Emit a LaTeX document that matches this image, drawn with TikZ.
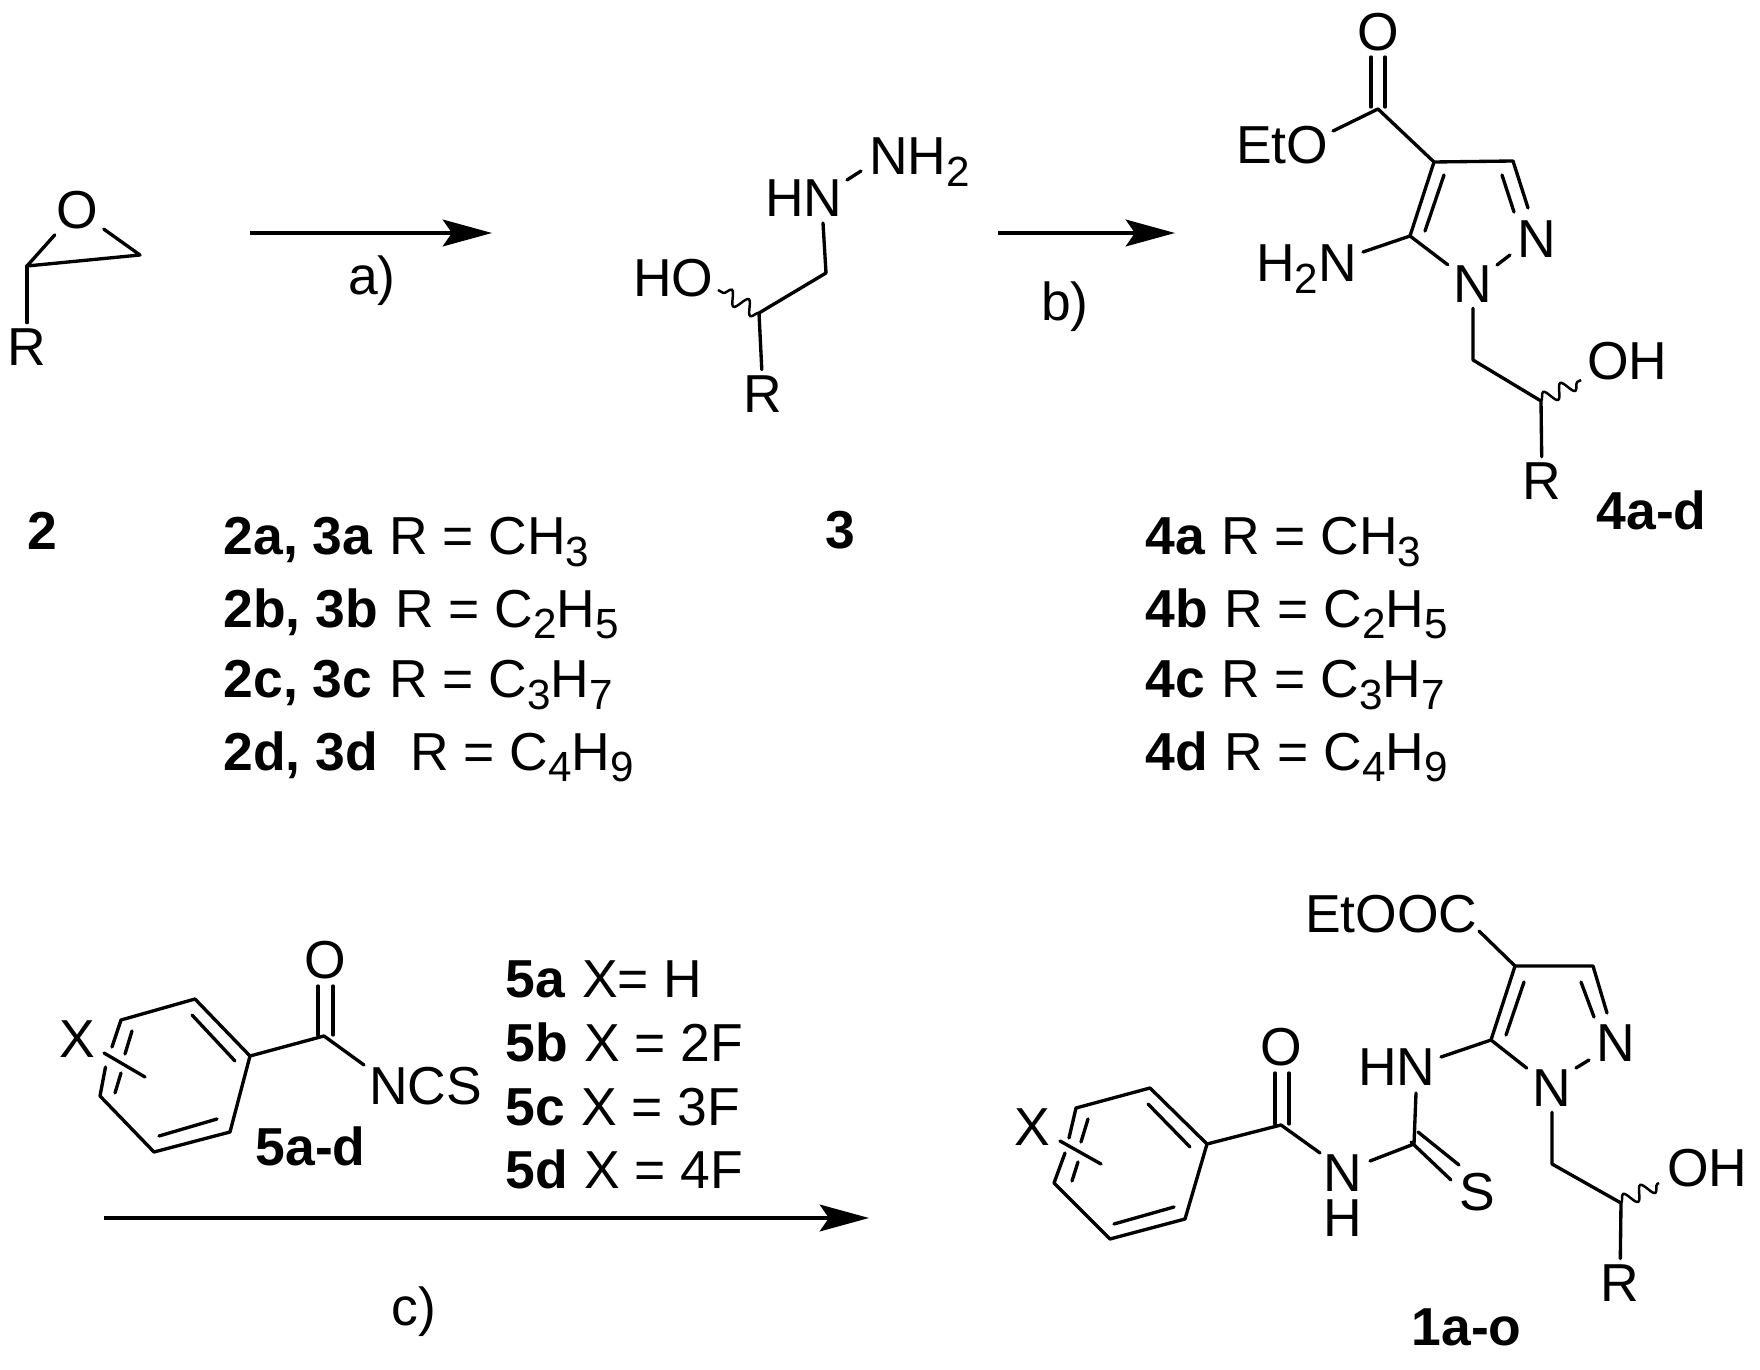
\documentclass[tikz,border=0pt]{standalone}
\usepackage{fontspec}
\setmainfont{Liberation Sans}
\usetikzlibrary{arrows.meta}
\usetikzlibrary{decorations.pathmorphing}
\newcommand{\indice}[1]{\raisebox{-3.4pt}{\fontsize{12}{12}\selectfont #1}}
\tikzset{
	atome/.style={inner sep=1.5pt,font=\fontsize{15.2}{17}\selectfont},
	texte/.style={inner sep=0pt,anchor=base west,xshift=-1pt,font=\fontsize{15.2}{17}\selectfont},
	gras/.style={inner sep=0pt,anchor=base west,xshift=-.6pt,font=\fontsize{15.2}{17}\selectfont\bfseries},
	liaison/.style={line width=.95pt,line cap=round,line join=round},
	ondule/.style={line width=.7pt,decorate,decoration={snake,amplitude=2pt,segment length=5.5pt}},
	fleche/.style={line width=1.05pt,-{Stealth[length=14pt,width=7.6pt,inset=2.6pt]}}
}
\begin{document}
\begin{tikzpicture}[x=.01cm,y=-.01cm]
					\useasboundingbox (0,0) rectangle (1760,1370);
%					Epoxyde 2 :
					\node[atome] (epO) at (77,210) {O};
					\node[atome] (epR) at (27,347) {R};
					\coordinate (epA) at (27,266);
					\coordinate (epB) at (140,255);
					\draw[liaison] (epO) -- (epA) -- (epB) -- (epO);
					\draw[liaison] (epA) -- (epR);
%					Fleche a) :
					\coordinate (flaD) at (250,233);
					\coordinate (flaF) at (492,233);
					\draw[fleche] (flaD) -- (flaF);
					\node[atome] (eta) at (372,281) {a)};
%					Hydrazine 3 :
					\node[texte] (hyNH) at (768,217) {HN};
					\node[texte] (hyNHd) at (872,175) {NH\indice{2}};
					\node[texte] (hyOH) at (636,297) {HO};
					\node[atome] (hyR) at (763,394) {R};
					\coordinate (hyA) at (823,223);
					\coordinate (hyB) at (826,273);
					\coordinate (hyC) at (759,313);
					\coordinate (hyD) at (847,180);
					\coordinate (hyE) at (861,171);
					\coordinate (hyF) at (718,290);
					\draw[liaison] (hyA) -- (hyB) -- (hyC) -- (hyR);
					\draw[liaison] (hyD) -- (hyE);
					\draw[ondule] (hyC) -- (hyF);
%					Fleche b) :
					\coordinate (flbD) at (998,233);
					\coordinate (flbF) at (1175,233);
					\draw[fleche] (flbD) -- (flbF);
					\node[atome] (etb) at (1065,307) {b)};
%					Pyrazole 4 :
					\node[atome] (pyO) at (1378,32) {O};
					\node[texte] (pyEt) at (1239,164) {EtO};
					\node[texte] (pyAm) at (1259,282) {H\indice{2}N};
					\node[atome] (pyNa) at (1473,284) {N};
					\node[atome] (pyNb) at (1537,239) {N};
					\node[texte] (pyOH) at (1590,380) {OH};
					\node[atome] (pyR) at (1542,481) {R};
					\coordinate (pyC) at (1378,109);
					\coordinate (pyCa) at (1371,57);
					\coordinate (pyCb) at (1371,107);
					\coordinate (pyCc) at (1385,57);
					\coordinate (pyCd) at (1385,107);
					\coordinate (pyE) at (1333,131);
					\coordinate (pyQ) at (1434,162);
					\coordinate (pyT) at (1513,161);
					\coordinate (pyTn) at (1528,208);
					\coordinate (pyIa) at (1502,175);
					\coordinate (pyIb) at (1514,212);
					\coordinate (pyV) at (1410,236);
					\coordinate (pyIc) at (1444,175);
					\coordinate (pyId) at (1425,231);
					\coordinate (pyAe) at (1363,252);
					\coordinate (pyNe) at (1497,265);
					\coordinate (pyNf) at (1510,255);
					\coordinate (pyS) at (1473,360);
					\coordinate (pyM) at (1541,401);
					\coordinate (pyW) at (1581,380);
					\draw[liaison] (pyCa) -- (pyCb);
					\draw[liaison] (pyCc) -- (pyCd);
					\draw[liaison] (pyE) -- (pyC) -- (pyQ) -- (pyT) -- (pyTn);
					\draw[liaison] (pyIa) -- (pyIb);
					\draw[liaison] (pyQ) -- (pyV) -- (pyAe);
					\draw[liaison] (pyIc) -- (pyId);
					\draw[liaison] (pyV) -- (pyNa);
					\draw[liaison] (pyNe) -- (pyNf);
					\draw[liaison] (pyNa) -- (pyS) -- (pyM) -- (pyR);
					\draw[ondule] (pyM) -- (pyW);
%					Textes de la premiere ligne :
					\node[gras] (nbDeux) at (29,550) {2};
					\node[gras] (nbTrois) at (827,549) {3};
					\node[gras] (nbQuatre) at (1598,530) {4a-d};
					\node[gras] (lgA) at (225,555) {2a, 3a};
					\node[texte] (rgA) at (392,555) {R = CH\indice{3}};
					\node[gras] (lgB) at (225,627) {2b, 3b};
					\node[texte] (rgB) at (398,627) {R = C\indice{2}H\indice{5}};
					\node[gras] (lgC) at (225,698) {2c, 3c};
					\node[texte] (rgC) at (392,698) {R = C\indice{3}H\indice{7}};
					\node[gras] (lgD) at (225,770) {2d, 3d};
					\node[texte] (rgD) at (413,770) {R = C\indice{4}H\indice{9}};
					\node[gras] (lqA) at (1147,555) {4a};
					\node[texte] (rqA) at (1224,555) {R = CH\indice{3}};
					\node[gras] (lqB) at (1147,627) {4b};
					\node[texte] (rqB) at (1227,627) {R = C\indice{2}H\indice{5}};
					\node[gras] (lqC) at (1147,698) {4c};
					\node[texte] (rqC) at (1224,698) {R = C\indice{3}H\indice{7}};
					\node[gras] (lqD) at (1147,770) {4d};
					\node[texte] (rqD) at (1227,770) {R = C\indice{4}H\indice{9}};
%					Isothiocyanate 5 :
					\node[atome] (isO) at (325,960) {O};
					\node[atome] (isX) at (77,1039) {X};
					\node[texte] (isN) at (372,1104) {NCS};
					\node[gras] (nbCinq) at (257,1165) {5a-d};
					\coordinate (isA) at (250,1056);
					\coordinate (isB) at (195,999);
					\coordinate (isC) at (121,1020);
					\coordinate (isCa) at (112,1047);
					\coordinate (isDa) at (105.5,1067);
					\coordinate (isD) at (100,1096);
					\coordinate (isE) at (154,1152);
					\coordinate (isF) at (230,1132);
					\coordinate (isG) at (324,1036);
					\coordinate (isGa) at (318,986);
					\coordinate (isGb) at (318,1035);
					\coordinate (isGc) at (333,986);
					\coordinate (isGd) at (333,1035);
					\coordinate (isH) at (364,1065);
					\coordinate (isIa) at (192,1015);
					\coordinate (isIb) at (235,1061);
					\coordinate (isIc) at (132,1031);
					\coordinate (isId) at (125,1054);
					\coordinate (isIe) at (121,1073);
					\coordinate (isIf) at (115,1093);
					\coordinate (isIg) at (159,1136);
					\coordinate (isIh) at (217,1119);
					\coordinate (isXa) at (104,1053);
					\coordinate (isXb) at (145,1077);
					\draw[liaison] (isCa) -- (isC) -- (isB) -- (isA) -- (isF) -- (isE) -- (isD) -- (isDa);
					\draw[liaison] (isIa) -- (isIb);
					\draw[liaison] (isIc) -- (isId);
					\draw[liaison] (isIe) -- (isIf);
					\draw[liaison] (isIg) -- (isIh);
					\draw[liaison] (isXa) -- (isXb);
					\draw[liaison] (isA) -- (isG) -- (isH);
					\draw[liaison] (isGa) -- (isGb);
					\draw[liaison] (isGc) -- (isGd);
					\node[gras] (lcA) at (507,997) {5a};
					\node[texte] (rcA) at (585,997) {X= H};
					\node[gras] (lcB) at (507,1061) {5b};
					\node[texte] (rcB) at (587,1061) {X = 2F};
					\node[gras] (lcC) at (507,1125) {5c};
					\node[texte] (rcC) at (584,1125) {X = 3F};
					\node[gras] (lcD) at (507,1188) {5d};
					\node[texte] (rcD) at (587,1188) {X = 4F};
%					Fleche c) :
					\coordinate (flcD) at (104,1218);
					\coordinate (flcF) at (869,1218);
					\draw[fleche] (flcD) -- (flcF);
					\node[atome] (etc) at (414,1312) {c)};
%					Produit 1 :
					\node[texte] (prEt) at (1308,932) {EtOOC};
					\node[atome] (prNa) at (1552,1088) {N};
					\node[atome] (prNb) at (1616,1043) {N};
					\node[texte] (prHN) at (1361,1085) {HN};
					\node[atome] (prS) at (1477,1192) {S};
					\node[atome,inner sep=0pt,align=center,font=\fontsize{15.2}{12.8}\selectfont] (prNH) at (1343,1196) {N\\H};
					\node[atome] (prO) at (1281,1047) {O};
					\node[atome] (prX) at (1032,1127) {X};
					\node[texte] (prOH) at (1670,1186) {OH};
					\node[atome] (prR) at (1620,1283) {R};
					\node[gras] (nbUn) at (1413,1345) {1a-o};
					\coordinate (prEa) at (1479,931);
					\coordinate (prQ) at (1515,966);
					\coordinate (prT) at (1593,966);
					\coordinate (prTn) at (1607,1013);
					\coordinate (prIa) at (1581,982);
					\coordinate (prIb) at (1594,1017);
					\coordinate (prV) at (1491,1040);
					\coordinate (prIc) at (1524,982);
					\coordinate (prId) at (1506,1035);
					\coordinate (prNe) at (1576,1068);
					\coordinate (prNf) at (1589,1060);
					\coordinate (prHa) at (1441,1057);
					\coordinate (prHb) at (1416,1093);
					\coordinate (prU) at (1414,1144);
					\coordinate (prSa) at (1418,1132);
					\coordinate (prSb) at (1459,1165);
					\coordinate (prSc) at (1411,1142);
					\coordinate (prSd) at (1451,1180);
					\coordinate (prW) at (1370,1161);
					\coordinate (prNg) at (1320,1153);
					\coordinate (prG) at (1281,1125);
					\coordinate (prGa) at (1275,1073);
					\coordinate (prGb) at (1275,1124);
					\coordinate (prGc) at (1289,1073);
					\coordinate (prGd) at (1289,1124);
					\coordinate (prA) at (1207,1144);
					\coordinate (prB) at (1150,1088);
					\coordinate (prC) at (1076,1108);
					\coordinate (prCa) at (1069,1138);
					\coordinate (prDa) at (1065,1153);
					\coordinate (prD) at (1054,1183);
					\coordinate (prE) at (1110,1239);
					\coordinate (prF) at (1185,1219);
					\coordinate (prJa) at (1148,1104);
					\coordinate (prJb) at (1190,1147);
					\coordinate (prJc) at (1114,1224);
					\coordinate (prJd) at (1174,1207);
					\coordinate (prJe) at (1088,1119);
					\coordinate (prJf) at (1081,1142);
					\coordinate (prJg) at (1078,1162);
					\coordinate (prJh) at (1072,1181);
					\coordinate (prXa) at (1060,1141);
					\coordinate (prXb) at (1101,1164);
					\coordinate (prL) at (1552,1164);
					\coordinate (prM) at (1621,1203);
					\coordinate (prZ) at (1659,1183);
					\draw[liaison] (prEa) -- (prQ) -- (prT) -- (prTn);
					\draw[liaison] (prIa) -- (prIb);
					\draw[liaison] (prQ) -- (prV) -- (prHa);
					\draw[liaison] (prIc) -- (prId);
					\draw[liaison] (prV) -- (prNa);
					\draw[liaison] (prNe) -- (prNf);
					\draw[liaison] (prHb) -- (prU) -- (prW);
					\draw[liaison] (prSa) -- (prSb);
					\draw[liaison] (prSc) -- (prSd);
					\draw[liaison] (prNg) -- (prG) -- (prA);
					\draw[liaison] (prGa) -- (prGb);
					\draw[liaison] (prGc) -- (prGd);
					\draw[liaison] (prCa) -- (prC) -- (prB) -- (prA) -- (prF) -- (prE) -- (prD) -- (prDa);
					\draw[liaison] (prJa) -- (prJb);
					\draw[liaison] (prJc) -- (prJd);
					\draw[liaison] (prJe) -- (prJf);
					\draw[liaison] (prJg) -- (prJh);
					\draw[liaison] (prXa) -- (prXb);
					\draw[liaison] (prNa) -- (prL) -- (prM) -- (prR);
					\draw[ondule] (prM) -- (prZ);
				\end{tikzpicture}
\end{document}
